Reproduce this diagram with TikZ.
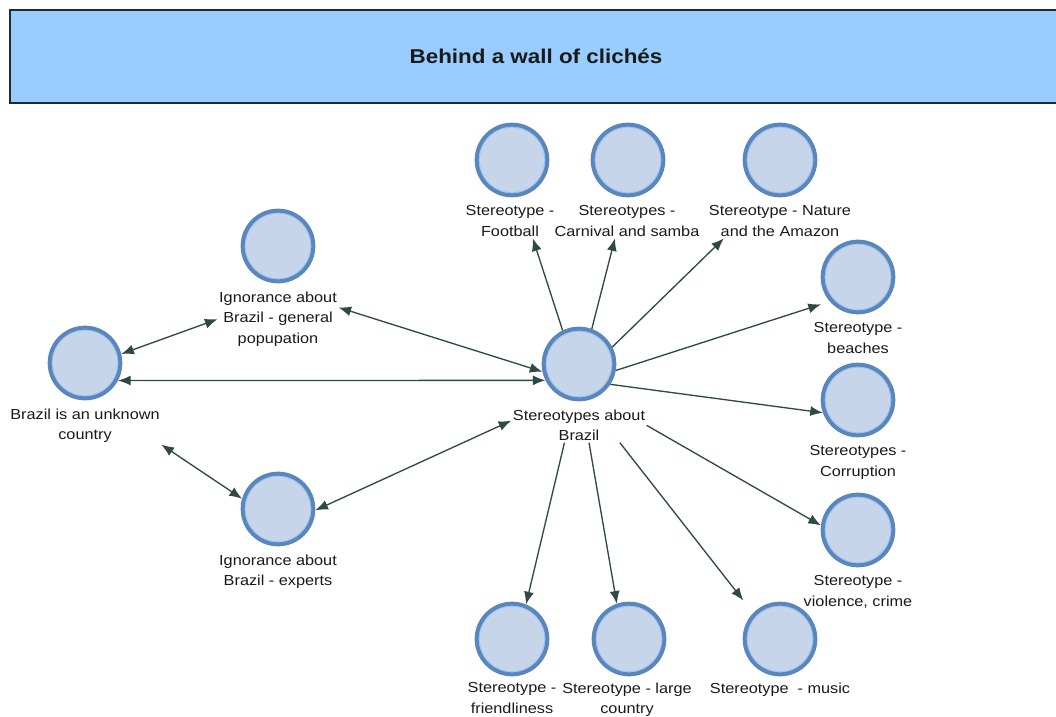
\documentclass[tikz,border=0pt]{standalone}
\usepackage{fontspec}
\setmainfont{Liberation Sans}[FakeStretch=1.12]
\usetikzlibrary{arrows.meta}
\definecolor{titlefill}{HTML}{99CCFF}
\definecolor{titleline}{HTML}{1E2A36}
\definecolor{ringcol}{HTML}{5A86BE}
\definecolor{bubblefill}{HTML}{C6D5EA}
\definecolor{innerring}{HTML}{A4C6EE}
\definecolor{arrowcol}{HTML}{2F4A46}
\definecolor{textcol}{HTML}{1A1A1A}
\begin{document}
\begin{tikzpicture}[x=0.75pt,y=-0.75pt,
  bubble/.style={circle, draw=ringcol, line width=3pt, fill=bubblefill, minimum size=53pt, inner sep=0pt,
     path picture={\draw[innerring, line width=0.9pt] (path picture bounding box.center) circle (24.6pt);}},
  lbl/.style={anchor=north, align=center, inner sep=1pt, text=textcol,
     font=\fontsize{10.9}{15.6}\selectfont},
  link/.style={draw=arrowcol, line width=1pt, -{Latex[length=9.5pt,width=7.5pt]}},
  both/.style={draw=arrowcol, line width=1pt, {Latex[length=9.5pt,width=7.5pt]}-{Latex[length=9.5pt,width=7.5pt]}}
]
\useasboundingbox (0,0) rectangle (1056,717);
\fill[white] (0,0) rectangle (1056,717);

% title
\node[draw=titleline, line width=1.2pt, fill=titlefill, minimum width=789pt, minimum height=69.75pt,
      inner sep=0pt, font=\fontsize{15}{18}\selectfont\bfseries, text=textcol] (title) at (536,56.5)
      {Behind a wall of clichés};

% circles
\node[bubble] (B)  at (85,363) {};
\node[bubble] (G)  at (278,246) {};
\node[bubble] (E)  at (278,509) {};
\node[bubble] (C)  at (579,364) {};
\node[bubble] (F1) at (512,160) {};
\node[bubble] (F2) at (628,160) {};
\node[bubble] (F3) at (780,160) {};
\node[bubble] (Be) at (858,277) {};
\node[bubble] (Co) at (858,400) {};
\node[bubble] (V)  at (858,530) {};
\node[bubble] (Fr) at (512,639) {};
\node[bubble] (Lc) at (629,639) {};
\node[bubble] (M)  at (780,639) {};

% labels
\node[lbl] (BL)  at (85,407)  {Brazil is an unknown\\country};
\node[lbl] (GL)  at (278,290) {Ignorance about\\Brazil - general\\popupation};
\node[lbl] (EL)  at (278,553) {Ignorance about\\Brazil - experts};
\node[lbl] (CL)  at (579,408) {Stereotypes about\\Brazil};
\node[lbl] (F1L) at (510,204) {Stereotype -\\Football};
\node[lbl] (F2L) at (627,204) {Stereotypes -\\Carnival and samba};
\node[lbl] (F3L) at (780,204) {Stereotype - Nature\\and the Amazon};
\node[lbl] (BeL) at (858,321) {Stereotype -\\beaches};
\node[lbl] (CoL) at (858,444) {Stereotypes -\\Corruption};
\node[lbl] (VL)  at (858,574) {Stereotype -\\violence, crime};
\node[lbl] (FrL) at (512,681) {Stereotype -\\friendliness};
\node[lbl] (LcL) at (627,681) {Stereotype - large\\country};
\node[lbl] (ML)  at (780,681) {Stereotype~ - music};

% connectors
\draw[both] (B.14) -- (GL.west);
\draw[both] (B.-28) -- (C.206);
\draw[both] (GL.11) -- (C.192);
\draw[both] (BL.south east) -- (E.164);
\draw[both] (E.-2) -- (CL.176);

\draw[link] (C.116) -- (F1L.-37);
\draw[link] (C.70) -- (F2L.-125);
\draw[link] (C.27) -- (F3L.-163);
\draw[link, shorten >=7pt] (C.-10) -- (Be.221);
\draw[link] (C.-33) -- (Co.200);
\draw[link] (CL.east) -- (V.173);
\draw[link] (CL.-130) -- (Fr.68);
\draw[link] (CL.-60) -- (Lc.109);
\draw[link, shorten >=12pt] (CL.-23) -- (M.136);
\end{tikzpicture}
\end{document}
